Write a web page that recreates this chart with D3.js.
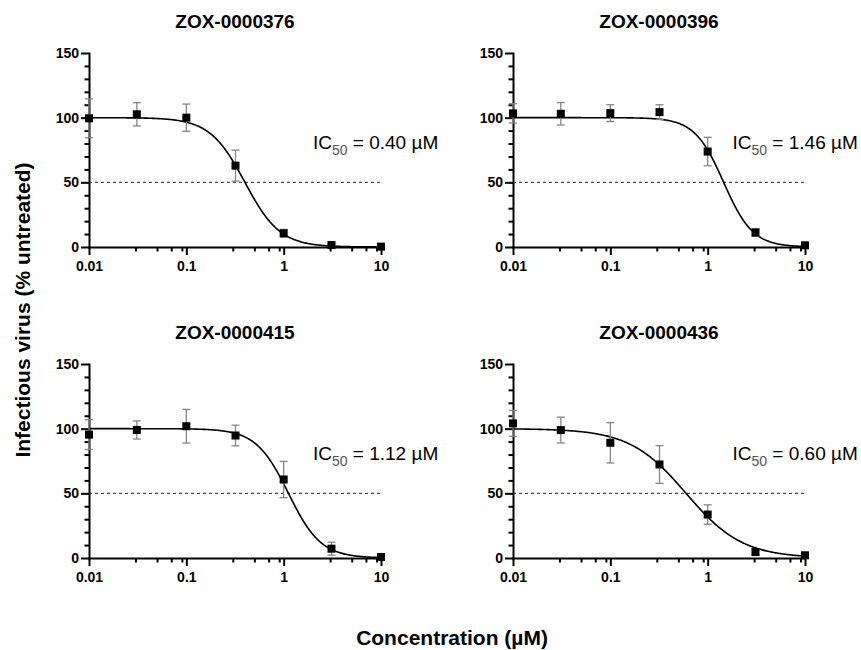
<!DOCTYPE html>
<html lang="en">
<head>
<meta charset="UTF-8" />
<script src="https://d3js.org/d3.v7.min.js"></script>
<title>IC50 curves</title>
<style>
  body { margin: 0; background: #fff; }
  text { font-family: "Liberation Sans", Arial, sans-serif; }
</style>
</head>
<body>
<svg width="861" height="650"></svg>
<script>
const compounds = ["ZOX-0000376", "ZOX-0000396", "ZOX-0000415", "ZOX-0000436"];
const concentrations = [0.01, 0.031, 0.1, 0.32, 1, 3.1, 10];
const meanValues = [
  [99.5, 102.6, 100, 62.9, 10.6, 1.5, 0.3],
  [103.3, 103, 103.5, 104.3, 73.8, 11.2, 1.3],
  [95.4, 99, 101.9, 94.7, 60.7, 7.2, 0.8],
  [104.1, 98.9, 89.1, 72.3, 33.6, 4.6, 2.1]
];
const sdValues = [
  [15, 9, 10.5, 12, 3, 1, 0.5],
  [7.5, 8.7, 6.5, 5.7, 11, 3, 1],
  [11.5, 7, 13, 8, 14, 5, 1],
  [10, 10, 15.6, 14.6, 7.5, 2, 2]
];
const ic50Values = [0.40, 1.46, 1.12, 0.60];
const ic50Labels = ["0.40", "1.46", "1.12", "0.60"];
const hillSlopes = [2.4, 2.9, 2.6, 1.5];
// where each IC50 label starts, in data units (concentration)
const labelAt = [2.0, 1.8, 2.0, 1.8];

const xTicks = [0.01, 0.1, 1, 10];
const xTickLabels = ["0.01", "0.1", "1", "10"];
const xMinorTicks = [0.03, 0.05, 0.07, 0.09, 0.3, 0.5, 0.7, 0.9, 3, 5, 7, 9];
const yTicks = [0, 50, 100, 150];
const yMinorTicks = [10, 20, 30, 40, 60, 70, 80, 90, 110, 120, 130, 140];

const svg = d3.select("svg");
svg.append("rect").attr("width", 861).attr("height", 650).attr("fill", "#fff");

const panelLeft = [89, 513, 89, 513];
const panelTop = [53, 53, 364, 364];
const plotW = 292, plotH = 194;

compounds.forEach((name, i) => {
  const g = svg.append("g").attr("transform", `translate(${panelLeft[i]},${panelTop[i]})`);
  const x = d3.scaleLog().domain([0.01, 10]).range([0, plotW]);
  const y = d3.scaleLinear().domain([0, 150]).range([plotH, 0]);

  // title
  g.append("text")
    .attr("x", plotW / 2).attr("y", -25)
    .attr("text-anchor", "middle")
    .attr("font-size", 19).attr("font-weight", "bold")
    .text(name);

  // axes
  const styleAxis = a => {
    a.selectAll("line").attr("stroke", "#000").attr("stroke-width", 2);
    a.selectAll(".domain").attr("stroke", "#000").attr("stroke-width", 2).attr("stroke-linecap", "square");
    a.selectAll("text").attr("font-size", 14).attr("font-weight", "bold").attr("fill", "#000")
      .attr("font-family", "Liberation Sans, Arial, sans-serif");
  };

  g.append("g").attr("transform", `translate(0,${plotH})`)
    .call(d3.axisBottom(x).tickValues(xMinorTicks).tickSize(4.5).tickFormat(""))
    .call(a => a.select(".domain").remove())
    .call(styleAxis);
  g.append("g").attr("transform", `translate(0,${plotH})`)
    .call(d3.axisBottom(x).tickValues(xTicks).tickSize(8).tickPadding(6)
      .tickSizeOuter(0).tickFormat((d, k) => xTickLabels[k]))
    .call(styleAxis);

  g.append("g")
    .call(d3.axisLeft(y).tickValues(yMinorTicks).tickSize(4.5).tickFormat(""))
    .call(a => a.select(".domain").remove())
    .call(styleAxis);
  g.append("g")
    .call(d3.axisLeft(y).tickValues(yTicks).tickSize(8).tickPadding(2).tickSizeOuter(0))
    .call(styleAxis);

  // 50% reference line
  g.append("line")
    .attr("x1", x(0.01)).attr("x2", x(10))
    .attr("y1", y(50)).attr("y2", y(50))
    .attr("stroke", "#222").attr("stroke-width", 1).attr("stroke-dasharray", "3,3");

  // fitted curve (4-parameter logistic, top 100, bottom 0)
  const ic50 = ic50Values[i], hill = hillSlopes[i];
  const fit = c => 100 / (1 + Math.pow(c / ic50, hill));
  const xs = d3.range(0, 301).map(k => 0.01 * Math.pow(10, 3 * k / 300));
  g.append("path")
    .datum(xs)
    .attr("fill", "none").attr("stroke", "#000").attr("stroke-width", 1.6)
    .attr("d", d3.line().x(c => x(c)).y(c => y(fit(c))));

  // error bars
  const pts = concentrations.map((c, k) => ({ c, m: meanValues[i][k], sd: sdValues[i][k] }));
  const eb = g.append("g").attr("stroke", "#858585").attr("stroke-width", 1.3);
  eb.selectAll("line.v").data(pts).join("line").attr("class", "v")
    .attr("x1", d => x(d.c)).attr("x2", d => x(d.c))
    .attr("y1", d => y(d.m - d.sd)).attr("y2", d => y(d.m + d.sd));
  eb.selectAll("line.t").data(pts).join("line").attr("class", "t")
    .attr("x1", d => x(d.c) - 4).attr("x2", d => x(d.c) + 4)
    .attr("y1", d => y(d.m + d.sd)).attr("y2", d => y(d.m + d.sd));
  eb.selectAll("line.b").data(pts).join("line").attr("class", "b")
    .attr("x1", d => x(d.c) - 4).attr("x2", d => x(d.c) + 4)
    .attr("y1", d => y(d.m - d.sd)).attr("y2", d => y(d.m - d.sd));

  // markers
  g.selectAll("rect.pt").data(pts).join("rect").attr("class", "pt")
    .attr("x", d => x(d.c) - 4).attr("y", d => y(d.m) - 4)
    .attr("width", 8).attr("height", 8).attr("fill", "#000");

  // IC50 label
  const lab = g.append("text")
    .attr("x", x(labelAt[i])).attr("y", y(76))
    .attr("font-size", 19).attr("fill", "#000");
  lab.append("tspan").text("IC");
  lab.append("tspan").attr("font-size", 14).attr("dy", 6).attr("fill", "#555").text("50");
  lab.append("tspan").attr("dy", -6).text(` = ${ic50Labels[i]} \u00b5M`);
});

// shared axis titles
svg.append("text")
  .attr("transform", "translate(30,310) rotate(-90)")
  .attr("text-anchor", "middle")
  .attr("font-size", 21).attr("font-weight", "bold")
  .text("Infectious virus (% untreated)");

svg.append("text")
  .attr("x", 452).attr("y", 645)
  .attr("text-anchor", "middle")
  .attr("font-size", 21).attr("font-weight", "bold")
  .text("Concentration (\u00b5M)");
</script>
</body>
</html>
